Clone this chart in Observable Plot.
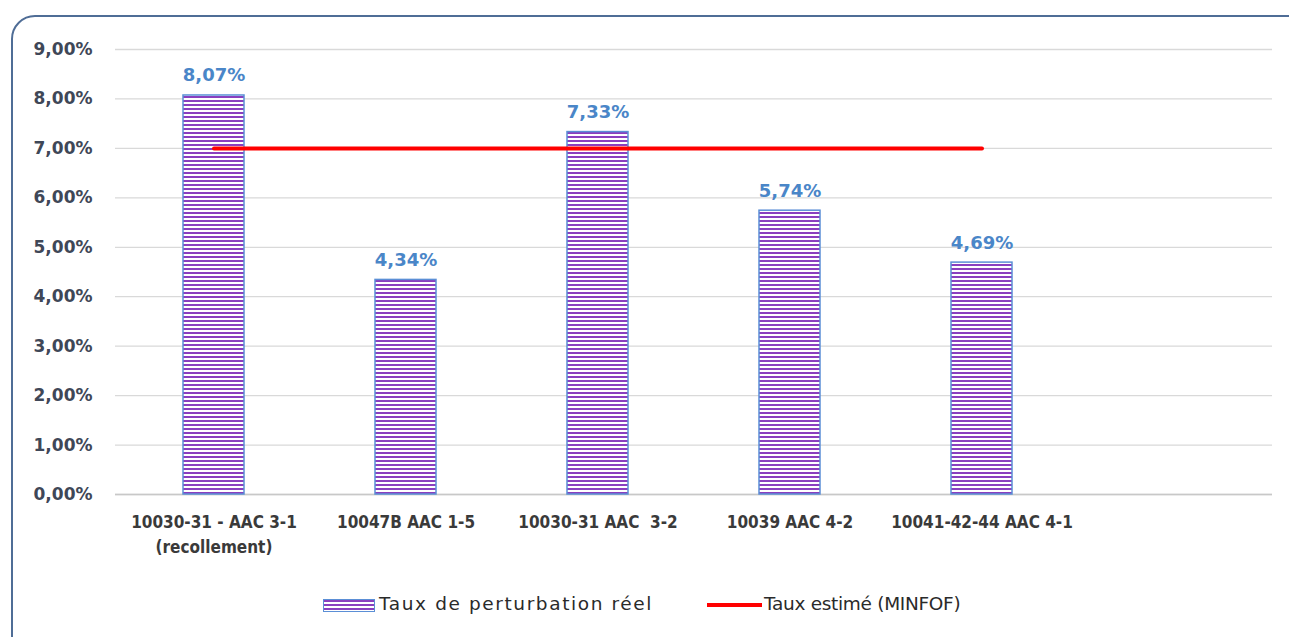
<!DOCTYPE html>
<html>
<head>
<meta charset="utf-8">
<script src="https://cdn.jsdelivr.net/npm/d3@7"></script>
<script src="https://cdn.jsdelivr.net/npm/@observablehq/plot@0.6"></script>
<style>
  html, body { margin: 0; padding: 0; background: #fff; }
  #wrap { position: relative; width: 1289px; height: 637px; overflow: hidden; background: #fff; }
  #frame { position: absolute; left: 11px; top: 15px; width: 1310px; height: 650px; border: 2px solid #4f6d96; border-radius: 24px; box-sizing: border-box; }
  #chart { position: absolute; left: 0; top: 0; }
  #legend { position: absolute; top: 593px; left: 0; width: 1289px; height: 26px; font-family: "DejaVu Sans", sans-serif; font-size: 18.5px; color: #2a2a2a; letter-spacing: 1.6px; }
  .sw-bar { position: absolute; left: 323px; top: 6px; width: 50px; height: 11px; border: 1.5px solid #5b8fd6;
    background: repeating-linear-gradient(to bottom, #8a3fbf 0px, #8a3fbf 2px, #ffffff 2px, #ffffff 4px); }
  .sw-line { position: absolute; left: 707px; top: 10px; width: 55px; height: 4px; background: #ff0000; }
  .lt { position: absolute; top: 0px; white-space: nowrap; }
</style>
</head>
<body>
<div id="wrap">
  <div id="frame"></div>
  <div id="chart"></div>
  <div id="legend">
    <div class="sw-bar"></div><div class="lt" style="left:379px">Taux de perturbation réel</div>
    <div class="sw-line"></div><div class="lt" style="left:764px; letter-spacing:-0.3px">Taux estimé (MINFOF)</div>
  </div>
</div>
<script>
// Data
const categories = [
  "10030-31 - AAC 3-1\n(recollement)",
  "10047B AAC 1-5",
  "10030-31 AAC  3-2",
  "10039 AAC 4-2",
  "10041-42-44 AAC 4-1",
  ""
];
const realRates = [8.07, 4.34, 7.33, 5.74, 4.69];      // Taux de perturbation réel (%)
const estimatedRate = [7, 7, 7, 7, 7];                  // Taux estimé (MINFOF) (%)
const yTicks = [0, 1, 2, 3, 4, 5, 6, 7, 8, 9];

const bars = realRates.map((v, i) => ({cat: categories[i], value: v}));
const est = estimatedRate.map((v, i) => ({cat: categories[i], value: v}));
const fmt = d => d.toFixed(2).replace(".", ",") + "%";

const plot = Plot.plot({
  width: 1289,
  height: 566,
  marginLeft: 115,
  marginRight: 17,
  marginTop: 49,
  marginBottom: 72,
  style: {fontFamily: "DejaVu Sans, sans-serif", background: "transparent"},
  x: {domain: categories, paddingInner: 0.68, paddingOuter: 0.34, label: null},
  y: {domain: [0, 9], label: null},
  marks: [
    Plot.gridY(yTicks, {stroke: "#d9d9d9", strokeOpacity: 1, strokeWidth: 1.3}),
    Plot.ruleY([0], {stroke: "#c8c8c8", strokeWidth: 1.3}),
    Plot.axisY(yTicks, {tickSize: 0, tickPadding: 23, tickFormat: fmt, fontSize: 17, fontWeight: "bold", fill: "#3f4757", style: {letterSpacing: "1.4px"}}),
    Plot.axisX({tickSize: 0, tickPadding: 15, fontSize: 17, fontWeight: "bold", fill: "#3a3a3a", lineHeight: 1.5,
      fontFamily: "Liberation Sans Narrow, DejaVu Sans Condensed, sans-serif", style: {letterSpacing: "0.4px"}}),
    Plot.barY(bars, {x: "cat", y: "value", fill: "url(#stripes)", stroke: "#5b8fd6", strokeWidth: 1.5}),
    Plot.text(bars, {x: "cat", y: "value", text: d => fmt(d.value), dy: -14, lineAnchor: "bottom",
      fill: "#4a86c8", fontWeight: "bold", fontSize: 18, fontFamily: "DejaVu Sans, sans-serif"}),
    Plot.line(est, {x: "cat", y: "value", stroke: "#ff0000", strokeWidth: 4})
  ]
});

// stripe pattern for the bars
const svg = d3.select(plot);
const defs = svg.insert("defs", ":first-child");
const pat = defs.append("pattern").attr("id", "stripes").attr("patternUnits", "userSpaceOnUse")
  .attr("width", 8).attr("height", 4);
pat.append("rect").attr("width", 8).attr("height", 4).attr("fill", "#ffffff");
pat.append("rect").attr("width", 8).attr("height", 2).attr("fill", "#8a3fbf");

document.getElementById("chart").appendChild(plot);
</script>
</body>
</html>
